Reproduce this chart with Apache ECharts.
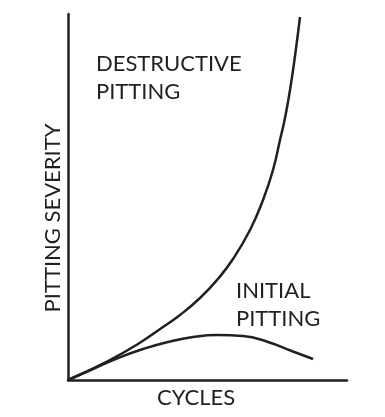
<!DOCTYPE html>
<html><head><meta charset="utf-8">
<script src="https://cdn.jsdelivr.net/npm/echarts@6/dist/echarts.min.js"></script>
<style>html,body{margin:0;padding:0;background:#fff}#c{width:385px;height:417px}</style>
</head><body><div id="c"></div>
<script>
// Conceptual curves (arbitrary units: cycles vs severity)
const destructiveX = [0, 40, 70, 95, 112, 132, 149, 165, 182, 195, 205, 212, 217, 222, 227, 232];
const destructiveY = [0, 19, 36, 53, 65, 82, 100, 121, 150, 180, 210, 240, 262, 290, 324, 363];
const initialX = [0, 25, 50, 75, 100, 125, 150, 175, 200, 225, 245];
const initialY = [0, 11, 22, 31, 38, 43, 45, 44, 38, 28.5, 21];
const xName = 'CYCLES';
const yName = 'PITTING SEVERITY';
const labelDestructive = 'DESTRUCTIVE\nPITTING';
const labelInitial = 'INITIAL\nPITTING';

const chart = echarts.init(document.getElementById('c'));
const ink = '#231f20';
const font = 'Lato, "Open Sans", sans-serif';
chart.setOption({
  animation: false,
  grid: {left: 68, top: 14, width: 279, height: 366},
  xAxis: {type: 'value', min: 0, max: 279,
    axisLine: {lineStyle: {color: ink, width: 2.5}}, axisTick: {show: false},
    axisLabel: {show: false}, splitLine: {show: false}},
  yAxis: {type: 'value', min: 0, max: 366,
    axisLine: {show: true, lineStyle: {color: ink, width: 2.5}}, axisTick: {show: false},
    axisLabel: {show: false}, splitLine: {show: false}},
  series: [
    {type: 'line', smooth: 0.5, showSymbol: false,
     lineStyle: {color: ink, width: 2.5},
     data: destructiveX.map((x, i) => [x, destructiveY[i]])},
    {type: 'line', smooth: 0.5, showSymbol: false,
     lineStyle: {color: ink, width: 2.5},
     data: initialX.map((x, i) => [x, initialY[i]])}
  ],
  graphic: [
    {type: 'text', left: 96, top: 50, style: {text: labelDestructive, fill: ink, font: '22px ' + font, lineHeight: 28}},
    {type: 'text', left: 236, top: 277, style: {text: labelInitial, fill: ink, font: '22px ' + font, lineHeight: 28}},
    {type: 'text', left: 157, top: 387, style: {text: xName, fill: ink, font: '22px ' + font}},
    {type: 'text', x: 42, y: 218, rotation: Math.PI / 2,
     style: {text: yName, fill: ink, font: '22px ' + font, align: 'center', verticalAlign: 'top'}}
  ]
});
</script></body></html>
